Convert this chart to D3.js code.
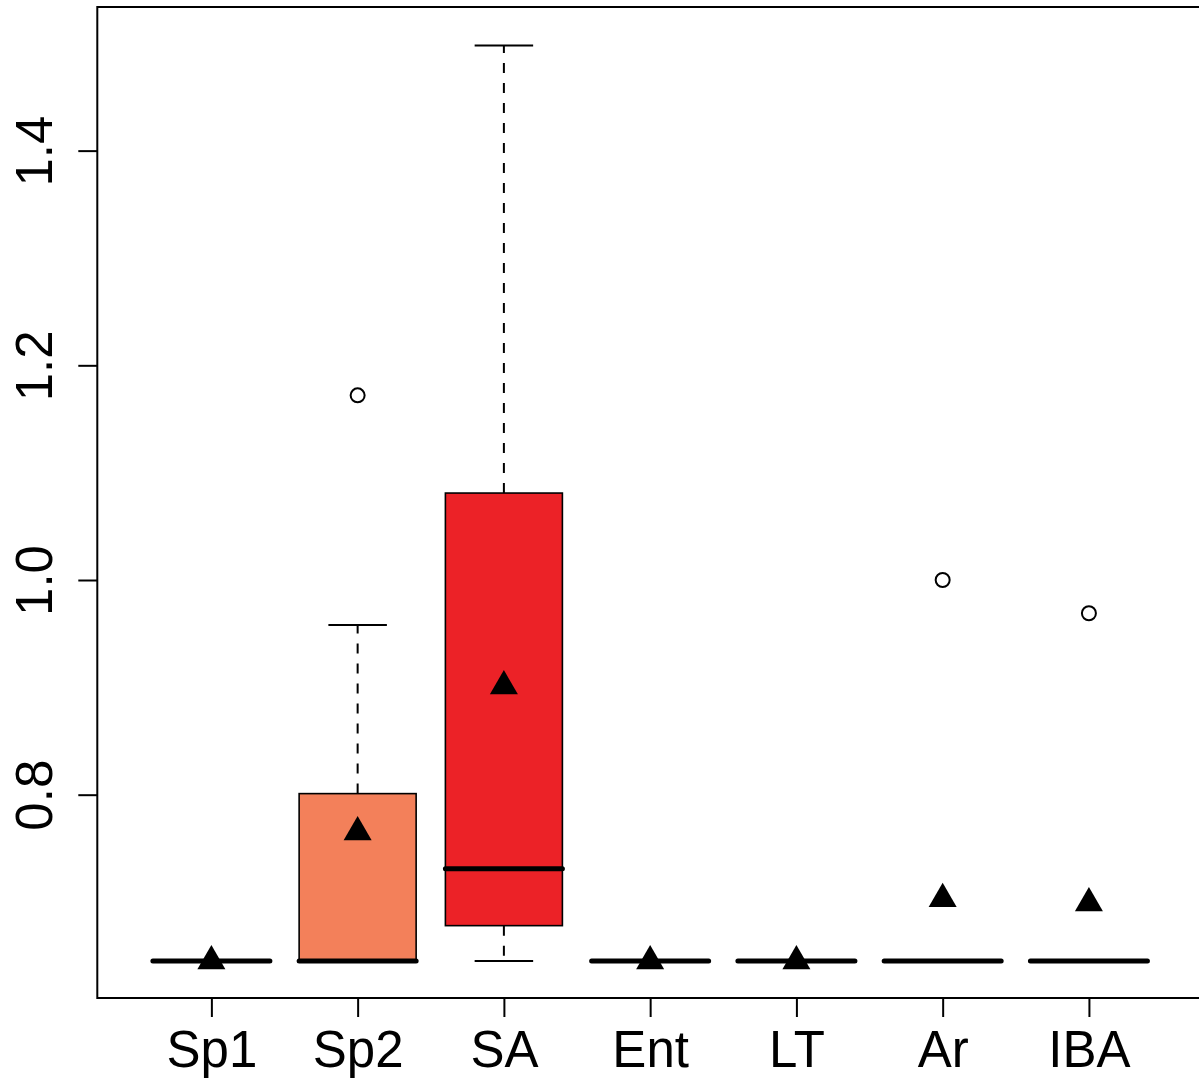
<!DOCTYPE html>
<html>
<head>
<meta charset="utf-8">
<script src="https://cdn.jsdelivr.net/npm/d3@7"></script>
<style>
  html, body { margin: 0; padding: 0; background: #fff; }
  svg { display: block; }
</style>
</head>
<body>
<div id="chart"></div>
<script>
// ---- data ----
const categories   = ["Sp1", "Sp2", "SA", "Ent", "LT", "Ar", "IBA"];
const lowWhisker   = [0.645, 0.645, 0.645, 0.645, 0.645, 0.645, 0.645];
const q1Values     = [0.645, 0.645, 0.678, 0.645, 0.645, 0.645, 0.645];
const medianValues = [0.645, 0.645, 0.731, 0.645, 0.645, 0.645, 0.645];
const q3Values     = [0.645, 0.801, 1.081, 0.645, 0.645, 0.645, 0.645];
const highWhisker  = [0.645, 0.958, 1.498, 0.645, 0.645, 0.645, 0.645];
const meanValues   = [0.645, 0.765, 0.901, 0.645, 0.645, 0.703, 0.699];
const outliers     = [[], [1.172], [], [], [], [1.000], [0.969]];
const boxColors    = ["#FDD0A2", "#F3805A", "#EC2227", "#FDD0A2", "#FDD0A2", "#FDD0A2", "#FDD0A2"];
const yTicks       = [0.8, 1.0, 1.2, 1.4];
const yLimits      = [0.6106, 1.5338];
const xLimits      = [0.22, 7.78];

// ---- layout ----
const W = 1199, H = 1084;
const plot = { left: 97.3, right: 1203, top: 7, bottom: 998 };

const svg = d3.select("#chart").append("svg")
  .attr("width", W).attr("height", H);

const x = d3.scaleLinear().domain(xLimits).range([plot.left, plot.right]);
const y = d3.scaleLinear().domain(yLimits).range([plot.bottom, plot.top]);
const halfBox = (x(1.4) - x(1)); // box width 0.8
const halfCap = halfBox / 2;

const data = categories.map((c, i) => ({
  cat: c, pos: i + 1,
  lo: lowWhisker[i], q1: q1Values[i], med: medianValues[i],
  q3: q3Values[i], hi: highWhisker[i], mean: meanValues[i],
  out: outliers[i], fill: boxColors[i]
}));

const g = svg.append("g");

// whiskers (dashed)
g.selectAll(".whiskUp").data(data.filter(d => d.hi > d.q3)).join("line")
  .attr("x1", d => x(d.pos)).attr("x2", d => x(d.pos))
  .attr("y1", d => y(d.q3)).attr("y2", d => y(d.hi))
  .attr("stroke", "#000").attr("stroke-width", 2).attr("stroke-dasharray", "10,10");
g.selectAll(".whiskDn").data(data.filter(d => d.lo < d.q1)).join("line")
  .attr("x1", d => x(d.pos)).attr("x2", d => x(d.pos))
  .attr("y1", d => y(d.q1)).attr("y2", d => y(d.lo))
  .attr("stroke", "#000").attr("stroke-width", 2).attr("stroke-dasharray", "10,10");

// staples
const staples = [];
data.forEach(d => {
  if (d.hi > d.q3) staples.push({ pos: d.pos, v: d.hi });
  if (d.lo < d.q1) staples.push({ pos: d.pos, v: d.lo });
});
g.selectAll(".staple").data(staples).join("line")
  .attr("x1", d => x(d.pos) - halfCap).attr("x2", d => x(d.pos) + halfCap)
  .attr("y1", d => y(d.v)).attr("y2", d => y(d.v))
  .attr("stroke", "#000").attr("stroke-width", 2);

// boxes
g.selectAll(".box").data(data.filter(d => d.q3 > d.q1)).join("rect")
  .attr("x", d => x(d.pos) - halfBox)
  .attr("width", 2 * halfBox)
  .attr("y", d => y(d.q3))
  .attr("height", d => y(d.q1) - y(d.q3))
  .attr("fill", d => d.fill)
  .attr("stroke", "#000").attr("stroke-width", 1.6);

// medians
g.selectAll(".median").data(data).join("line")
  .attr("x1", d => x(d.pos) - halfBox).attr("x2", d => x(d.pos) + halfBox)
  .attr("y1", d => y(d.med)).attr("y2", d => y(d.med))
  .attr("stroke", "#000").attr("stroke-width", 5).attr("stroke-linecap", "round");

// outliers
const outPts = [];
data.forEach(d => d.out.forEach(v => outPts.push({ pos: d.pos, v })));
g.selectAll(".out").data(outPts).join("circle")
  .attr("cx", d => x(d.pos)).attr("cy", d => y(d.v)).attr("r", 7)
  .attr("fill", "none").attr("stroke", "#000").attr("stroke-width", 2);

// means (filled triangles, R pch 17 geometry)
const s = 10.4;
const tri = `M0,${-1.5551 * s}L${1.3468 * s},${0.7776 * s}L${-1.3468 * s},${0.7776 * s}Z`;
g.selectAll(".mean").data(data).join("path")
  .attr("transform", d => `translate(${x(d.pos)},${y(d.mean)})`)
  .attr("d", tri).attr("fill", "#000");

// frame
svg.append("rect")
  .attr("x", plot.left).attr("y", plot.top)
  .attr("width", plot.right - plot.left).attr("height", plot.bottom - plot.top)
  .attr("fill", "none").attr("stroke", "#000").attr("stroke-width", 2);

// y axis
const yAxis = svg.append("g")
  .attr("transform", `translate(${plot.left},0)`)
  .call(d3.axisLeft(y).tickValues(yTicks).tickFormat(d3.format(".1f")).tickSize(19));
yAxis.select(".domain").remove();
yAxis.selectAll(".tick line").attr("stroke", "#000").attr("stroke-width", 2);
yAxis.selectAll(".tick text")
  .attr("x", null).attr("dy", null)
  .attr("transform", `translate(${52 - plot.left},0) rotate(-90)`)
  .attr("text-anchor", "middle")
  .attr("fill", "#000")
  .style("font-family", "'Liberation Sans', Arial, sans-serif")
  .style("font-size", "51px");

// x axis
const xAxis = svg.append("g")
  .attr("transform", `translate(0,${plot.bottom})`)
  .call(d3.axisBottom(x).tickValues(data.map(d => d.pos))
    .tickFormat(p => categories[p - 1]).tickSize(19));
xAxis.select(".domain").remove();
xAxis.selectAll(".tick line").attr("stroke", "#000").attr("stroke-width", 2);
xAxis.selectAll(".tick text")
  .attr("y", 68.7).attr("dy", null)
  .attr("fill", "#000")
  .style("font-family", "'Liberation Sans', Arial, sans-serif")
  .style("font-size", "51px");
</script>
</body>
</html>
